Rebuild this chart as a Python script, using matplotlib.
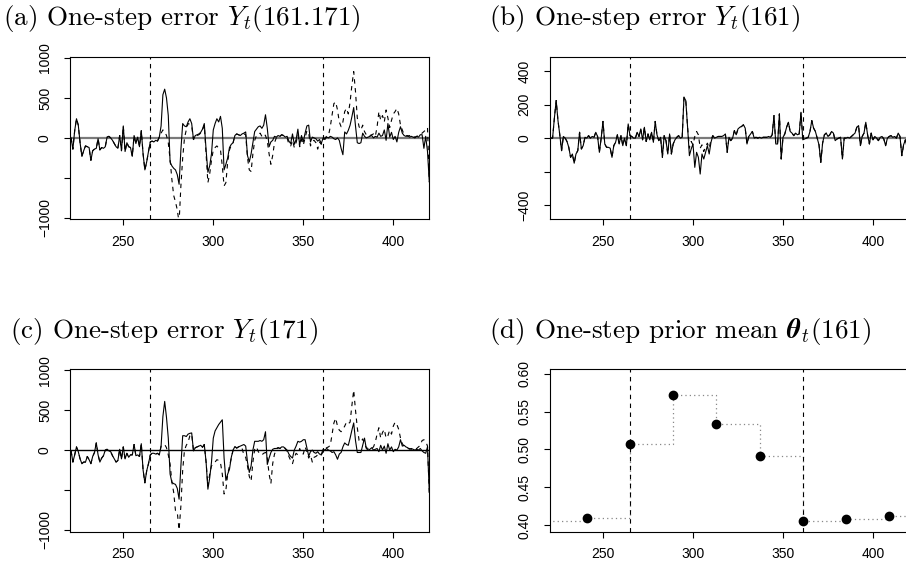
import numpy as np
import matplotlib
matplotlib.use("Agg")
import matplotlib.pyplot as plt

plt.rcParams['font.family'] = ['Liberation Sans', 'DejaVu Sans']
plt.rcParams['mathtext.fontset'] = 'cm'

# time index 221..420
t = np.arange(221, 421)

# (a) one-step error Y_t(161.171): solid and dashed
err_a = [
    0, -140, 90, 240, 160, -60, -230, -160, -100, -110,
    -120, -280, -160, -140, -130, -10, -150, -120, -130, -110,
    10, 20, 0, -30, -70, -110, -130, 30, -160, 150,
    -170, -60, -110, -120, -230, 30, -70, 10, -110, 90,
    -200, -400, -300, -170, -50, -40, -50, -30, -40, 10,
    150, 540, 610, 500, 280, -300, -350, -380, -400, -460,
    -580, -150, 180, 150, 140, 200, 240, 180, -20, 30,
    40, 50, 70, 110, 180, -150, -430, -350, -200, 100,
    180, 240, 200, 270, 120, -400, -330, -250, -120, -80,
    -60, 30, 50, 40, 30, 50, 60, 75, -220, -300,
    -200, -60, 80, 110, 140, 150, 120, 160, 290, 120,
    -110, -50, -30, 20, 10, 30, 20, 40, 30, 10,
    20, -40, -70, 50, -80, -20, 110, -90, 30, -50,
    60, 150, 160, -50, 10, 0, -10, -40, -20, -70,
    0, -20, 10, 0, 20, 10, -10, -20, 0, -30,
    -130, -210, 75, 50, 95, 160, 265, 380, 150, -60,
    -70, -60, 60, 20, 0, 10, 20, 30, 0, 20,
    10, 60, 20, 30, 100, -30, 180, 10, 70, -20,
    20, -50, 70, 140, 60, 30, 20, 30, 10, 20,
    10, 0, 20, 10, 40, 40, -130, 20, -170, -550,
]
dash_a_start = 270
dash_a_vals = [
    10,
    60, 100, 80, 30, -60, -270, -520, -720, -800, -900,
    -1060, -600, -250, 0, 100, 180, 170, 150, -20, 20,
    30, 40, 60, 100, 160, -200, -560, -450, -280, -150,
    -120, -100, -130, -150, -350, -600, -560, -300, -150, -90,
    -60, 30, 50, 40, 30, 40, 50, 40, -250, -400,
    -420, -200, -30, 30, 40, 60, 20, 50, 30, -40,
    -200, -330, -220, -60, 0, 30, 20, 40, 30, 10,
    0, -80, -100, -30, -120, -60, 40, -110, -20, -90,
    0, 90, 60, -100, -40, -30, -60, -140, -50, -80,
    -20, 0, 20, 30, 140, 290, 430, 450, 350, 200,
    140, 200, 330, 370, 300, 450, 660, 830, 580, 250,
    140, 100, 160, 80, 40, 20, 30, 40, 50, 20,
    140, 330, 220, 280, 200, 350, 250, 130, 220, 300,
    330, 370, 300, 160, 100, 40, 30, 20, 30, 10,
    20, 10, 20, 30, 40, 60, 80, 100, 130, -550,
]

# (b) one-step error Y_t(161)
err_b = [
    0, 0, 120, 225, 105, 20, -75, 10, 0, -20,
    -55, -115, -95, -150, -95, -75, 35, -65, -45, 5,
    0, 15, 0, 10, 5, 35, 10, -85, 0, 100,
    -35, -55, -55, -60, -115, -45, -25, 20, -35, 15,
    -45, 0, -45, 85, 15, 10, 0, 0, 35, 10,
    55, -10, 65, -20, 25, -10, 35, -25, 100, 20,
    -15, 5, -115, 15, -15, -95, 25, -95, -35, -10,
    5, 15, 0, 5, 245, 225, 65, -105, -65, -35,
    -175, -85, -115, -215, -95, -125, -85, -45, -95, -25,
    15, 0, 5, 10, 10, 10, 15, 25, -85, 5,
    -15, 0, 45, 20, 55, 65, 70, 80, 60, -35,
    10, 25, 40, 0, 5, 0, 5, 0, 5, 5,
    5, 10, 5, 20, 135, -35, -35, 145, -125, 5,
    25, 65, 95, 40, 30, 15, 30, 20, 25, 155,
    -10, -5, 0, 5, 40, 105, 60, 40, 0, -40,
    -145, -30, 20, 30, 10, 20, 40, 30, -15, -5,
    0, 5, -125, 0, 0, 5, 0, 10, 20, 30,
    65, 75, -45, 10, 30, 95, 20, -35, 30, -10,
    10, 0, -15, 5, 10, -5, -45, 0, 10, 15,
    5, 10, 0, 30, 10, -105, -40, -10, -60, -50,
]
dash_b_start = 296
dash_b_vals = [225, 65, -60, -20, -40, 10, 40, 20, -60, -40,
               -80, -50, -30, -60, -10, 15]

# (c) one-step error Y_t(171)
err_c = [
    -10, -150, -60, 40, -20, -110, -170, -150, -150, -80,
    -120, -170, -80, -30, 90, -60, -150, -100, -70, 0,
    10, -10, -20, -70, -110, -150, -130, 10, -110, 40,
    -110, -40, -90, -60, -60, 70, -70, -60, -80, 80,
    -250, -410, -260, -170, -60, -40, -40, -50, -40, -60,
    50, 420, 610, 410, 150, -300, -405, -420, -430, -480,
    -615, -200, 180, 180, 170, 200, 210, 215, -10, 30,
    40, 50, 60, 35, 70, -150, -490, -350, -150, 150,
    240, 280, 320, 350, 380, -100, -380, -300, -240, -90,
    0, 45, 25, 40, 50, 60, 70, 50, -150, -280,
    -200, 0, 110, 110, 110, 120, 110, 130, 230, -180,
    -100, -30, 10, 20, 20, 30, 20, 40, 40, 20,
    0, -50, -80, -100, 0, 50, 110, 100, 110, 130,
    130, 30, -75, -20, 0, -30, -40, -20, -50, -55,
    10, 0, 20, 0, -10, -30, -20, -60, -115, -50,
    -30, 40, 90, 70, 60, 150, 250, 340, 120, -30,
    -30, -30, 60, 150, 20, 0, 10, 30, 0, 10,
    20, -20, 60, 0, 50, -40, 80, 0, 40, -20,
    10, 0, 40, 130, 50, 60, 40, 30, 10, 20,
    10, 0, 10, 0, 20, -10, -30, -40, 40, -530,
]
dash_c_start = 270
dash_c_vals = [
    -60,
    50, 60, 70, 30, -60, -175, -400, -530, -760, -780,
    -1000, -700, -250, 0, 60, 100, 180, 200, -10, 30,
    40, 50, 60, 35, 70, -150, -450, -300, -200, -170,
    -150, -120, -130, -160, -300, -550, -500, -300, -200, -100,
    0, 45, 25, 40, 50, 20, -60, -90, -200, -330,
    -390, -150, 10, 40, -20, -50, -60, -40, -30, -100,
    -300, -420, -170, -50, 0, 30, 20, 40, 40, 20,
    -20, -80, -130, -170, -90, -40, -60, 20, -40, -50,
    40, -20, -100, -60, -150, -90, -80, -60, -80, -60,
    -20, 10, 30, 40, 60, 200, 340, 400, 300, 250,
    230, 260, 300, 350, 330, 350, 560, 750, 500, 280,
    120, 100, 140, 80, 30, 20, 10, 20, 40, 100,
    200, 280, 150, 220, 260, 150, 180, 250, 200, 300,
    350, 320, 260, 150, 80, 50, 30, 20, 20, 10,
    20, 10, 20, 40, 60, 120, 130, 110, 50, -530,
]

# (d) one-step prior mean theta_t(161), changes every 24 steps
theta_t = [217, 241, 265, 289, 313, 337, 361, 385, 409, 433]
theta_v = [0.4057, 0.410, 0.507, 0.572, 0.533, 0.491, 0.406, 0.409, 0.412, 0.412]

# intervention times
breaks = [265, 361]

xticks = [250, 300, 350, 400]


def with_override(base, start, vals):
    out = np.array(base, dtype=float)
    i = start - t[0]
    out[i:i + len(vals)] = vals
    return out


def style_axes(ax, ylim, yticks, ylabels):
    ax.set_xlim(220.4, 420)
    ax.set_ylim(*ylim)
    ax.set_xticks(xticks)
    ax.set_yticks(yticks)
    ax.set_yticklabels(ylabels)
    ax.tick_params(direction='out', length=4, width=0.8, pad=7,
                   labelsize=10, top=False, right=False)
    ax.tick_params(axis='y', pad=9)
    for lab in ax.get_yticklabels():
        lab.set_rotation(90)
        lab.set_va('center')
    for s in ax.spines.values():
        s.set_linewidth(0.8)
        s.set_color('black')
    for b in breaks:
        ax.axvline(b, color='black', lw=0.8, ls=(0, (4, 4)))


fig = plt.figure(figsize=(9.06, 5.67), dpi=100)
W, H = 906, 567

pos = {
    'a': [70 / W, 1 - 219.3 / H, 359.3 / W, 162.5 / H],
    'b': [549.7 / W, 1 - 219.3 / H, 359.3 / W, 162.5 / H],
    'c': [70 / W, 1 - 531.5 / H, 359.3 / W, 162.5 / H],
    'd': [549.7 / W, 1 - 531.5 / H, 359.3 / W, 162.5 / H],
}

big_ticks = [-1000, -500, 0, 500, 1000]
big_labels = ['\u22121000', '', '0', '500', '1000']

# (a)
ax = fig.add_axes(pos['a'])
ax.axhline(0, color='#7a7a7a', lw=1.6)
ax.plot(t, with_override(err_a, dash_a_start, dash_a_vals), color='black',
        lw=0.8, ls=(0, (4, 4)))
ax.plot(t, err_a, color='black', lw=0.8)
style_axes(ax, (-1018, 1015), big_ticks, big_labels)

# (b)
ax = fig.add_axes(pos['b'])
ax.axhline(0, color='#7a7a7a', lw=1.6)
ax.plot(t, with_override(err_b, dash_b_start, dash_b_vals), color='black',
        lw=0.8, ls=(0, (4, 4)))
ax.plot(t, err_b, color='black', lw=0.8)
style_axes(ax, (-486, 487), [-400, -200, 0, 200, 400],
           ['\u2212400', '', '0', '200', '400'])

# (c)
ax = fig.add_axes(pos['c'])
ax.axhline(0, color='black', lw=1.0)
ax.plot(t, with_override(err_c, dash_c_start, dash_c_vals), color='black',
        lw=0.8, ls=(0, (4, 4)))
ax.plot(t, err_c, color='black', lw=0.8)
style_axes(ax, (-1020, 1016), big_ticks, big_labels)

# (d)
ax = fig.add_axes(pos['d'])
ax.step(theta_t, theta_v, where='post', color='#888888', lw=0.9,
        ls=(0, (1, 2.5)))
ax.plot(theta_t[1:-1], theta_v[1:-1], 'o', color='black', ms=6)
style_axes(ax, (0.392, 0.606), [0.40, 0.45, 0.50, 0.55, 0.60],
           ['0.40', '0.45', '0.50', '0.55', '0.60'])

# panel titles
title_kw = dict(fontfamily='cmr10', fontsize=19.5, va='baseline', ha='left')
fig.text(3 / W, 1 - 25 / H, r'(a) One-step error $Y_t(161.171)$', **title_kw)
fig.text(489 / W, 1 - 25 / H, r'(b) One-step error $Y_t(161)$', **title_kw)
fig.text(10 / W, 1 - 338 / H, r'(c) One-step error $Y_t(171)$', **title_kw)
fig.text(489 / W, 1 - 338 / H,
         r'(d) One-step prior mean $\boldsymbol{\theta}_t(161)$', **title_kw)

fig.savefig('out.png', dpi=100)
